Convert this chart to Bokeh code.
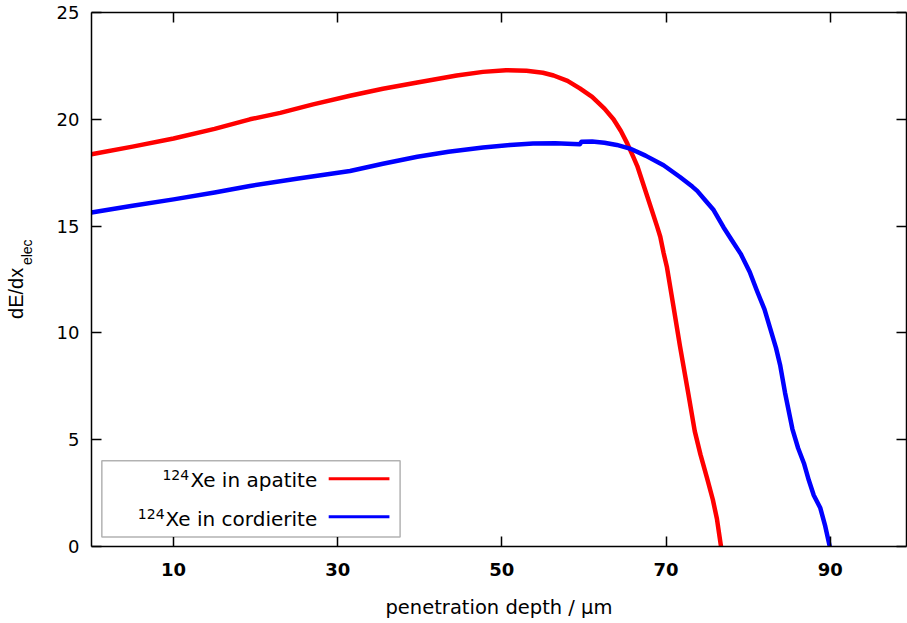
from bokeh.plotting import figure
from bokeh.models import LinearAxis, FixedTicker, Label, BoxAnnotation, Range1d, Title
from bokeh.embed import file_html
from bokeh.resources import INLINE

# ---------------- data ----------------
apatite_x = [0.0, 5.0, 10.0, 15.0, 19.3, 23.0, 27.0, 31.5, 35.5, 39.7, 44.5, 47.7, 50.5, 53.0,
             55.0, 56.3, 58.0, 59.5, 61.0, 62.5, 63.6, 64.5, 65.3, 66.0, 66.5, 67.7, 68.9, 69.3,
             69.7, 70.1, 70.9, 71.7, 72.7, 73.5, 74.2, 75.0, 75.7, 76.2, 76.7]
apatite_y = [18.36, 18.72, 19.1, 19.55, 20.0, 20.3, 20.7, 21.1, 21.43, 21.72, 22.05, 22.22, 22.3, 22.27,
             22.18, 22.05, 21.8, 21.45, 21.05, 20.5, 20.0, 19.45, 18.85, 18.25, 17.81, 16.41, 15.0, 14.5,
             13.75, 13.1, 11.25, 9.38, 7.19, 5.4, 4.3, 3.2, 2.2, 1.3, 0.0]

cordierite_x = [0.0, 5.0, 10.0, 15.0, 19.3, 25.0, 31.5, 35.5, 39.7, 43.5, 47.7, 51.0, 53.8, 56.5,
                59.5, 59.7, 61.0, 62.5, 64.0, 65.6, 67.5, 69.7, 71.7, 73.2, 73.8, 74.8, 75.8, 77.0,
                78.0, 79.1, 80.2, 81.1, 82.0, 82.7, 83.4, 83.9, 84.5, 85.4, 86.1, 86.8, 87.4, 88.0,
                88.8, 89.4, 89.95]
cordierite_y = [15.64, 15.95, 16.25, 16.57, 16.88, 17.22, 17.58, 17.92, 18.25, 18.48, 18.68, 18.8, 18.87, 18.88,
                18.83, 18.95, 18.96, 18.9, 18.8, 18.63, 18.3, 17.85, 17.3, 16.85, 16.65, 16.2, 15.75, 14.95,
                14.35, 13.7, 12.85, 11.95, 11.1, 10.2, 9.3, 8.5, 7.2, 5.5, 4.6, 3.9, 3.1, 2.4,
                1.8, 0.95, 0.0]

x_ticks = [10, 30, 50, 70, 90]
y_ticks = [0, 5, 10, 15, 20, 25]

series_names = ["Xe in apatite", "Xe in cordierite"]
isotope = "124"
x_title = "penetration depth / \u00b5m"
y_title_main = "dE/dx"
y_title_sub = "elec"

# ---------------- figure ----------------
X0, X1 = 0.0, 99.3
Y0, Y1 = 0.0, 25.0
p = figure(width=907, height=623, output_backend="svg", toolbar_location=None,
           x_range=Range1d(X0, X1), y_range=Range1d(Y0, Y1),
           min_border_left=91, min_border_right=1, min_border_top=12, min_border_bottom=77)
p.background_fill_color = "white"
p.border_fill_color = "white"
p.outline_line_color = None
p.xgrid.grid_line_color = None
p.ygrid.grid_line_color = None

AX_COLOR = "#000000"
NBSP = "\u00a0"


def style_axis(ax, ticks, labels=True, bold=False, standoff=12):
    ax.ticker = FixedTicker(ticks=ticks)
    ax.axis_line_color = AX_COLOR
    ax.axis_line_width = 1.5
    ax.major_tick_line_color = AX_COLOR
    ax.major_tick_line_width = 1.5
    ax.major_tick_in = 10
    ax.major_tick_out = 0
    ax.minor_tick_line_color = None
    if labels:
        ax.major_label_text_font = "DejaVu Sans"
        ax.major_label_text_font_size = "18px"
        ax.major_label_text_color = "black"
        ax.major_label_text_font_style = "bold" if bold else "normal"
        ax.major_label_standoff = standoff
    else:
        ax.major_label_overrides = {t: "" for t in ticks}
        ax.major_label_text_font_size = "1px"
        ax.major_label_standoff = 0


style_axis(p.xaxis[0], x_ticks, bold=True, standoff=16)
style_axis(p.yaxis[0], y_ticks, bold=False, standoff=12)

xa = p.xaxis[0]
xa.axis_label = x_title
xa.axis_label_text_font = "DejaVu Sans"
xa.axis_label_text_font_size = "19.5px"
xa.axis_label_text_font_style = "normal"
xa.axis_label_text_color = "black"
xa.axis_label_standoff = 17

# y title: subscript part as the axis label (inner), main part as a side title (outer)
ya = p.yaxis[0]
ya.axis_label = NBSP * 14 + y_title_sub
ya.axis_label_text_font = "Liberation Sans"
ya.axis_label_text_font_size = "14px"
ya.axis_label_text_font_style = "normal"
ya.axis_label_text_color = "black"
ya.axis_label_standoff = 19

p.add_layout(Title(text=y_title_main + NBSP * 5, align="center", vertical_align="bottom",
                   standoff=-22,
                   text_font="Liberation Sans", text_font_size="20px",
                   text_font_style="normal", text_color="black"), "left")

top = LinearAxis()
style_axis(top, x_ticks, labels=False)
p.add_layout(top, "above")
right = LinearAxis()
style_axis(right, y_ticks, labels=False)
p.add_layout(right, "right")

# ---------------- curves ----------------
p.line(apatite_x, apatite_y, line_color="#ff0000", line_width=4.5, line_join="round")
p.line(cordierite_x, cordierite_y, line_color="#0000ff", line_width=4.5, line_join="round")

# ---------------- manual legend (text left, sample right) ----------------
p.add_layout(BoxAnnotation(left=1.26, right=37.6, bottom=0.45, top=4.02,
                           fill_color="white", fill_alpha=1.0,
                           line_color="black", line_width=1.5, level="annotation"))
legend_rows = [
    (series_names[0], "#ff0000", 3.17, 3.13, 11.9, 3.36),
    (series_names[1], "#0000ff", 1.39, 1.30, 8.9, 1.53),
]
for name, color, ly, tby, sup_x, sup_y in legend_rows:
    p.add_layout(BoxAnnotation(left=28.9, right=36.3, bottom=ly - 0.07, top=ly + 0.07,
                               fill_color=color, fill_alpha=1.0, line_color=None))
    p.add_layout(Label(x=27.5, y=tby, text=name, text_align="right", text_baseline="alphabetic",
                       text_font="DejaVu Sans", text_font_size="20px", text_color="black"))
    p.add_layout(Label(x=sup_x, y=sup_y, text=isotope, text_align="right",
                       text_baseline="alphabetic",
                       text_font="DejaVu Sans", text_font_size="14px", text_color="black"))

open("out.html", "w").write(file_html(p, INLINE))
